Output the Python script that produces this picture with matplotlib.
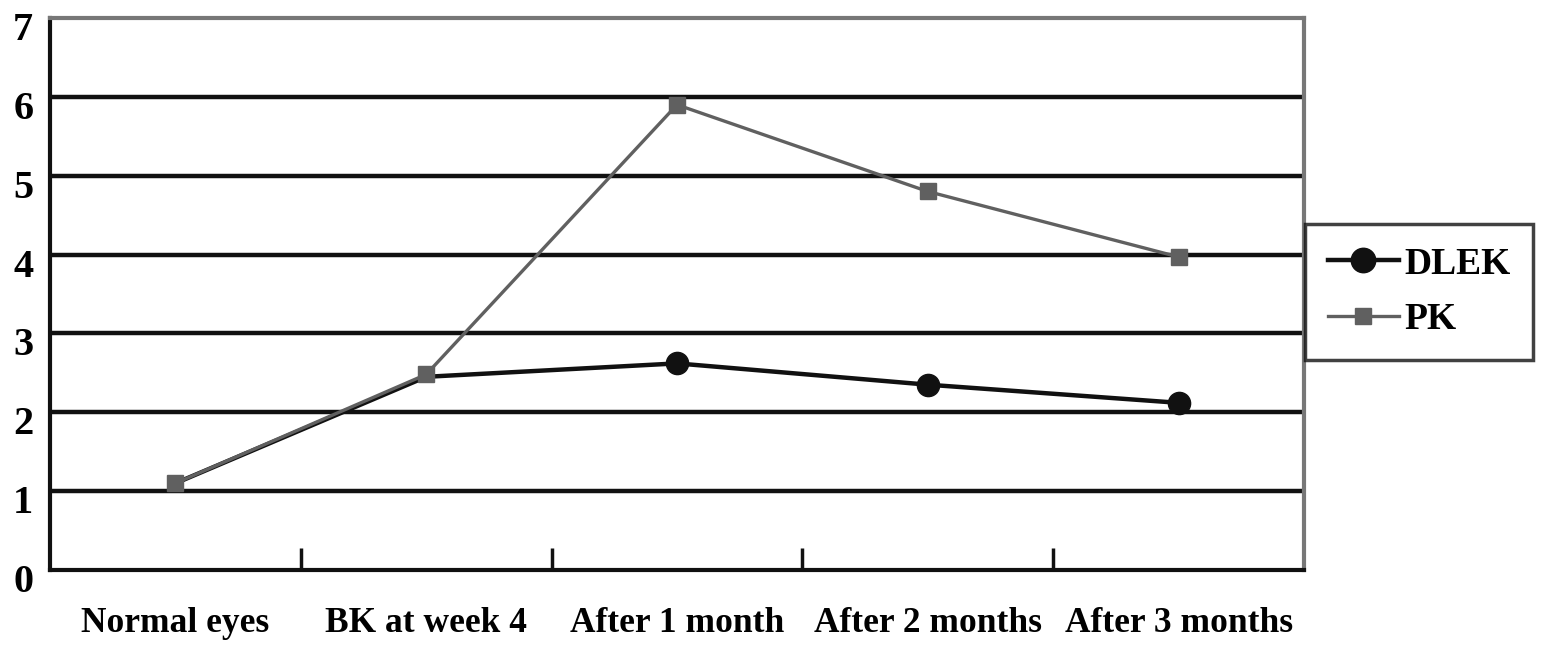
import matplotlib
matplotlib.use("Agg")
import matplotlib.pyplot as plt
import matplotlib.transforms as mtransforms

categories = ["Normal eyes", "BK at week 4", "After 1 month", "After 2 months", "After 3 months"]
dlek = [1.1, 2.45, 2.62, 2.35, 2.12]
pk = [1.1, 2.48, 5.9, 4.8, 3.97]
yticks = [0, 1, 2, 3, 4, 5, 6, 7]

plt.rcParams['font.family'] = ['Liberation Serif', 'DejaVu Serif']
plt.rcParams['font.weight'] = 'bold'

fig = plt.figure(figsize=(15.59, 6.58), dpi=100)
ax = fig.add_axes([50/1559, 1 - 570/658, (1304-50)/1559, (570-18)/658])

x = list(range(len(categories)))
ax.set_xlim(-0.5, len(categories) - 0.5)
ax.set_ylim(0, 7)

for v in yticks[1:-1]:
    ax.axhline(v, color='#111111', lw=3.2, zorder=1)

ax.plot(x, dlek, color='#111111', lw=3.2, marker='o', markersize=16,
        markevery=[2, 3, 4], label='DLEK', zorder=3)
ax.plot(x, pk, color='#606060', lw=2.4, marker='s', markersize=11,
        label='PK', zorder=4)

ax.set_yticks(yticks)
ax.set_yticklabels([str(v) for v in yticks], fontsize=29, fontweight='bold')
ax.tick_params(axis='y', length=0, pad=12)
offset = mtransforms.ScaledTranslation(0, -0.08, fig.dpi_scale_trans)
for lbl in ax.get_yticklabels():
    lbl.set_transform(lbl.get_transform() + offset)

ax.set_xticks([i + 0.5 for i in range(len(categories) - 1)])
ax.set_xticklabels([])
ax.tick_params(axis='x', direction='in', length=16, width=2.5, color='#111111')
for i, c in enumerate(categories):
    ax.text(i, -0.68, c, ha='center', va='center', fontsize=25.5,
            fontweight='bold', transform=ax.transData)

ax.spines['left'].set_color('#111111')
ax.spines['left'].set_linewidth(3)
ax.spines['bottom'].set_color('#111111')
ax.spines['bottom'].set_linewidth(3)
ax.spines['top'].set_color('#777777')
ax.spines['top'].set_linewidth(3)
ax.spines['right'].set_color('#777777')
ax.spines['right'].set_linewidth(3)

leg = ax.legend(loc='upper left', bbox_to_anchor=(1305/1559, 1 - 224/658),
                bbox_transform=fig.transFigure, frameon=True, fancybox=False,
                borderaxespad=0,
                prop={'family': 'Liberation Serif', 'weight': 'bold', 'size': 27},
                handlelength=1.9, borderpad=0.6, labelspacing=0.55,
                handletextpad=0.15, markerscale=1.1)
leg.get_frame().set_edgecolor('#111111')
leg.get_frame().set_linewidth(2.5)

fig.savefig("out.png", dpi=100)
